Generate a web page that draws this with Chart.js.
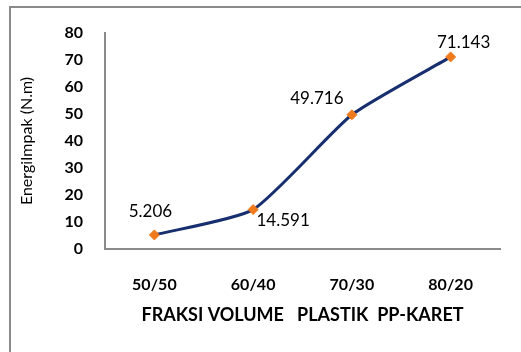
<!DOCTYPE html>
<html>
<head>
<meta charset="utf-8">
<script src="https://cdn.jsdelivr.net/npm/chart.js@4"></script>
<style>
html,body{margin:0;padding:0;background:#fff;overflow:hidden;}
#wrap{position:relative;width:521px;height:352px;}
#frame{position:absolute;left:9px;top:6px;width:700px;height:500px;border:2px solid #8a8a8a;box-sizing:border-box;}
canvas{position:absolute;left:0;top:0;}
</style>
</head>
<body>
<div id="wrap">
<div id="frame"></div>
<canvas id="c" width="521" height="352"></canvas>
</div>
<script>
const categories = ["50/50", "60/40", "70/30", "80/20"];
const energiImpak = [5.206, 14.591, 49.716, 71.143];
const valueLabels = ["5.206", "14.591", "49.716", "71.143"];
const yTitle = "EnergiImpak (N.m)";
const xTitle = "FRAKSI VOLUME   PLASTIK  PP-KARET";

const labelOffsets = [[-4, -23], [30, 11], [-35, -16], [13, -14]];

const dataLabelPlugin = {
  id: 'dataLabels',
  afterDatasetsDraw(chart) {
    const ctx = chart.ctx;
    const meta = chart.getDatasetMeta(0);
    ctx.save();
    ctx.font = '17px Lato';
    ctx.fillStyle = '#000';
    ctx.textAlign = 'center';
    ctx.textBaseline = 'middle';
    meta.data.forEach((pt, i) => {
      const o = labelOffsets[i];
      ctx.fillText(valueLabels[i], pt.x + o[0], pt.y + o[1]);
    });
    ctx.restore();
  }
};

Chart.defaults.font.family = 'Lato';
new Chart(document.getElementById('c'), {
  type: 'line',
  data: {
    labels: categories,
    datasets: [{
      data: energiImpak,
      borderColor: '#172f6e',
      borderWidth: 3,
      tension: 0.18,
      pointStyle: 'rectRot',
      pointRadius: 5,
      pointBackgroundColor: '#ee7a1c',
      pointBorderColor: '#ee7a1c',
      pointBorderWidth: 1
    }]
  },
  options: {
    responsive: false,
    animation: false,
    layout: { padding: { left: 10, top: 33, right: 21, bottom: 0 } },
    plugins: { legend: { display: false }, tooltip: { enabled: false } },
    scales: {
      x: {
        offset: true,
        grid: { display: false, drawTicks: false },
        border: { display: true, color: '#8a8a8a', width: 2 },
        ticks: { color: '#000', font: { size: 16, weight: 'bold' }, padding: 26 },
        title: { display: true, text: xTitle, color: '#000', font: { size: 18, weight: 'bold' }, padding: { top: 0, bottom: 26 } },
        afterFit(s) { s.height = 103; }
      },
      y: {
        min: 0, max: 80,
        grid: { display: false, drawTicks: false },
        border: { display: true, color: '#8a8a8a', width: 2 },
        ticks: { stepSize: 10, color: '#000', font: { size: 16, weight: 'bold' }, padding: 22 },
        title: { display: true, text: yTitle, color: '#000', font: { size: 16 }, padding: { top: 7, bottom: 0 } },
        afterFit(s) { s.width = 95; }
      }
    }
  },
  plugins: [dataLabelPlugin]
});
</script>
</body>
</html>
